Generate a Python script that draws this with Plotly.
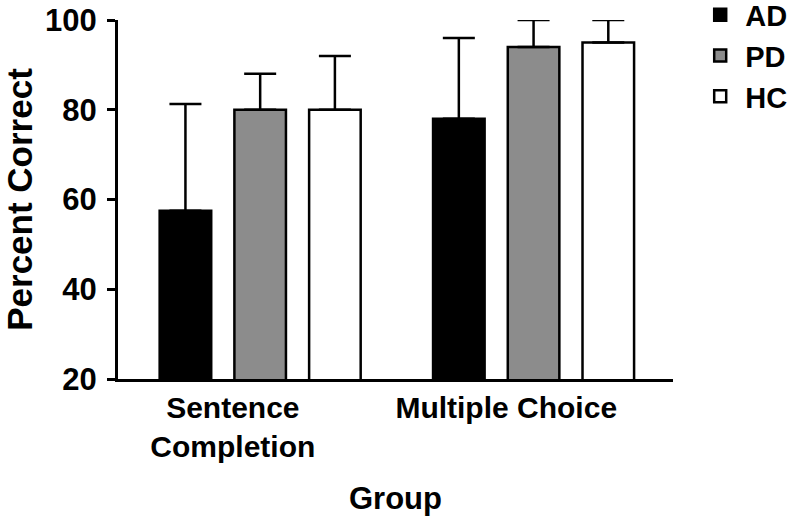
import plotly.graph_objects as go

categories = ["Sentence<br>Completion", "Multiple Choice"]
groups = ["AD", "PD", "HC"]
means = {
    "AD": [57.5, 78.0],
    "PD": [80.0, 94.0],
    "HC": [80.0, 95.0],
}
errors_up = {
    "AD": [23.8, 18.0],
    "PD": [8.0, 6.0],
    "HC": [12.0, 5.0],
}
fills = {"AD": "#000000", "PD": "#8c8c8c", "HC": "#ffffff"}
y_ticks = [20, 40, 60, 80, 100]

x_pos = list(range(len(categories)))

fig = go.Figure()
for g in groups:
    fig.add_trace(go.Bar(
        name=g,
        x=x_pos,
        y=means[g],
        marker=dict(color=fills[g], line=dict(color="black", width=2.5)),
        error_y=dict(type="data", array=errors_up[g], arrayminus=[0] * len(categories),
                     symmetric=False, color="black", thickness=2.5, width=16),
    ))

font_family = "Liberation Sans, Arial, sans-serif"
fig.update_layout(
    width=787, height=519,
    margin=dict(l=118, r=114, t=20, b=140, autoexpand=False),
    paper_bgcolor="white", plot_bgcolor="white",
    barmode="group", bargap=0.18, bargroupgap=0.31,
    font=dict(family=font_family, size=30, color="black", weight="bold"),
    showlegend=True,
    legend=dict(x=1.04, y=1.085, xanchor="left", yanchor="top",
                font=dict(size=29, weight="bold"), tracegroupgap=0,
                bgcolor="rgba(0,0,0,0)", itemwidth=40),
    xaxis=dict(
        range=[-0.52, 1.51], automargin=False,
        tickmode="array", tickvals=[p - 0.1 for p in x_pos], ticktext=categories,
        showline=True, linecolor="black", linewidth=3,
        ticks="", showgrid=False, zeroline=False,
        tickfont=dict(size=30, weight="bold"),
        title=dict(text="Group", font=dict(size=31, weight="bold"), standoff=26),
    ),
    yaxis=dict(
        range=[20, 100], automargin=False,
        tickmode="array", tickvals=y_ticks,
        showline=True, linecolor="black", linewidth=3,
        ticks="outside", ticklen=8, tickwidth=3, tickcolor="black",
        ticklabelstandoff=4, ticklabeloverflow="allow",
        showgrid=False, zeroline=False,
        tickfont=dict(size=31, weight="bold"),
        title=dict(text="Percent Correct", font=dict(size=35, weight="bold"), standoff=2),
    ),
)

fig.write_html("out.html", config={"displayModeBar": False},
               post_script="document.body.style.margin='0';")
